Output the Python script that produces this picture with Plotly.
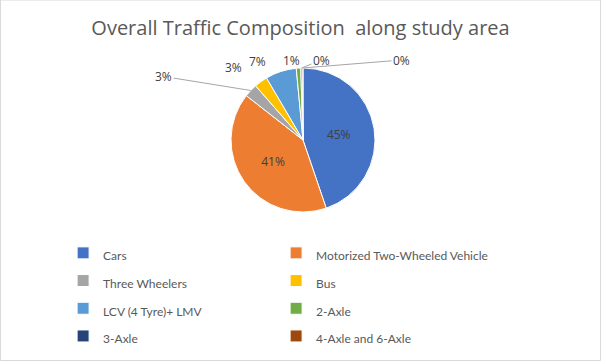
import math
import plotly.graph_objects as go

categories = ["Cars", "Motorized Two-Wheeled Vehicle", "Three Wheelers", "Bus",
              "LCV (4 Tyre)+ LMV", "2-Axle", "3-Axle", "4-Axle and 6-Axle"]
shares = [45, 41, 3, 3, 7, 1, 0.3, 0.2]
colors = ["#4472C4", "#ED7D31", "#A5A5A5", "#FFC000",
          "#5B9BD5", "#70AD47", "#264478", "#9E480E"]
title_text = "Overall Traffic Composition  along study area"

# ---- layout geometry (pixels) ----
W, H = 601, 361
MB = 120                      # bottom margin (legend area)
PH = H - MB                   # plot-area height
CX, CY, R = 303, 140, 72      # pie centre / radius in pixels
dom_x = [CX / W - 0.40, CX / W + 0.40]
dom_y = [(PH - CY - R) / PH, (PH - CY + R) / PH]

legend_labels = ["<span style='font-size:12px'>%s</span>" % c for c in categories]
inside = [True, True, False, False, False, False, False, False]

fig = go.Figure(go.Pie(
    labels=legend_labels,
    values=shares,
    sort=False,
    direction="clockwise",
    rotation=0,
    marker=dict(colors=colors, line=dict(color="white", width=1)),
    texttemplate="%{percent:.0%}",
    textposition=["inside" if f else "none" for f in inside],
    textfont=dict(family="Open Sans, Liberation Sans", size=12, color="#404040"),
    insidetextorientation="horizontal",
    domain=dict(x=dom_x, y=dom_y),
    showlegend=True,
    hoverinfo="skip",
))

# outside percentage labels for the thin slices, anchored at each slice's rim
label_offsets = {2: (-87, -14, True), 3: (-27, -14, False), 4: (-23, -10, False),
                 5: (-7, -8, False), 6: (20, -8, True), 7: (99, -8, True)}
total = sum(shares)
cum = 0.0
annotations = []
for i, v in enumerate(shares):
    mid = (cum + v / 2) / total
    cum += v
    if inside[i]:
        continue
    th = 2 * math.pi * mid
    px = CX + R * math.sin(th)
    py = CY - R * math.cos(th)
    ax, ay, line = label_offsets[i]
    annotations.append(dict(
        x=px / W, y=(PH - py) / PH, xref="paper", yref="paper",
        text="%d%%" % round(100 * v / total),
        showarrow=True, arrowhead=0, arrowwidth=1,
        arrowcolor="#A6A6A6" if line else "rgba(0,0,0,0)",
        ax=ax, ay=ay, axref="pixel", ayref="pixel", standoff=0,
        font=dict(family="Open Sans, Liberation Sans", size=12, color="#404040"),
    ))

fig.update_layout(
    width=W, height=H,
    margin=dict(l=0, r=0, t=0, b=MB, autoexpand=False),
    paper_bgcolor="white",
    plot_bgcolor="white",
    title=dict(text=title_text, x=0.5, xanchor="center", y=0.922, yanchor="middle",
               font=dict(family="Open Sans, Liberation Sans", size=20, color="#595959")),
    legend=dict(orientation="h", traceorder="normal", x=0.105, xanchor="left",
                y=0.029, yanchor="top",
                entrywidth=168, entrywidthmode="pixels",
                font=dict(family="Lato, Open Sans", size=19, color="#595959")),
    annotations=annotations,
    shapes=[dict(type="rect", xref="paper", yref="paper", x0=0.0008, x1=0.9992,
                 y0=-MB / PH + 0.002, y1=1, line=dict(color="#D9D9D9", width=1))],
)

fig.write_html("out.html", config={"displayModeBar": False},
               post_script="document.body.style.margin='0';")
